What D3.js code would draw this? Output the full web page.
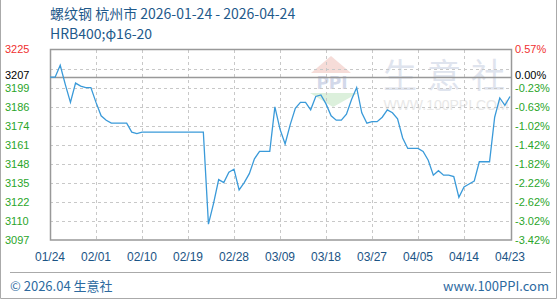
<!DOCTYPE html>
<html>
<head>
<meta charset="utf-8">
<script src="https://cdn.jsdelivr.net/npm/d3@7"></script>
<style>
body { margin: 0; background: #fff; }
</style>
</head>
<body>
<svg id="chart"></svg>
<script>
// 螺纹钢 杭州市 日价格
const title = "螺纹钢 杭州市 2026-01-24 - 2026-04-24";
const subtitle = "HRB400;φ16-20";
const xLabels = ["01/24", "02/01", "02/10", "02/19", "02/28", "03/09", "03/18", "03/27", "04/05", "04/14", "04/23"];
const prices = [
  3207, 3207, 3215, 3202, 3190, 3203, 3201, 3200, 3200, 3190,
  3181, 3178, 3176, 3176, 3176, 3176, 3170, 3169, 3170, 3170,
  3170, 3170, 3170, 3170, 3170, 3170, 3170, 3170, 3170, 3170,
  3170, 3108, 3122, 3138, 3136, 3143, 3145, 3131, 3136, 3142,
  3152, 3157, 3157, 3157, 3187, 3172, 3162, 3175, 3186, 3190,
  3190, 3185, 3194, 3195, 3189, 3181, 3178, 3178, 3182, 3192,
  3200, 3183, 3176, 3177, 3177, 3180, 3185, 3183, 3179, 3166,
  3159, 3159, 3159, 3157, 3151, 3141, 3144, 3141, 3141, 3140,
  3126, 3133, 3135, 3137, 3150, 3150, 3150, 3180, 3193, 3188,
  3194
];
const basePrice = 3207;
const yMin = 3097.3;
const yMax = 3225.3;
const leftLabels = ["3097", "3110", "3122", "3135", "3148", "3161", "3174", "3186", "3199"];
const rightLabels = ["-3.42%", "-3.02%", "-2.62%", "-2.22%", "-1.82%", "-1.42%", "-1.02%", "-0.63%", "-0.23%"];
const baseLabels = ["3207", "0.00%"];
const topLabels = ["3225", "0.57%"];

const width = 560;
const height = 300;
const plot = { left: 50, right: 511, top: 50, bottom: 240 };

const svg = d3.select("#chart")
  .attr("width", width)
  .attr("height", height)
  .style("display", "block");

const x = d3.scaleLinear().domain([0, prices.length - 1]).range([plot.left, 510]);
const y = d3.scaleLinear().domain([yMin, yMax]).range([plot.bottom, plot.top]);
const step = (yMax - yMin) / 10;
const crisp = v => Math.round(v) + 0.5;

// outer frame
svg.append("path")
  .attr("d", `M0.5,0 V298.5 H556.5 V0`)
  .attr("fill", "none")
  .attr("stroke", "#aaa");

// title
const head = svg.append("g").attr("fill", "#1f5a8b").style("font-family", "'Noto Sans CJK SC', sans-serif").style("font-size", "14px");
head.append("text").attr("x", 50).attr("y", 19).text(title);
head.append("text").attr("x", 50).attr("y", 39).text(subtitle);

// watermark
const wm = svg.append("g");
wm.append("path").attr("d", "M331,56 L311,73 L351,73 Z").attr("fill", "#f6dcd8");
wm.append("text").attr("x", 332).attr("y", 89).attr("text-anchor", "middle")
  .style("font-family", "'DejaVu Sans', sans-serif").style("font-size", "17px").style("font-weight", "bold")
  .attr("fill", "#d3d9ea").text("PPI");
wm.append("path").attr("d", "M310,93 L358,93 L333,107 Z").attr("fill", "#dcf0dc");
wm.selectAll(".wmc")
  .data(["生", "意", "社"])
  .enter().append("text")
  .attr("x", (d, i) => 400 + i * 44)
  .attr("y", 88)
  .attr("text-anchor", "middle")
  .style("font-family", "'Noto Sans CJK SC', sans-serif")
  .style("font-size", "34px")
  .attr("fill", "#dfe4ee")
  .text(d => d);
wm.append("text").attr("x", 446).attr("y", 110).attr("text-anchor", "middle")
  .style("font-family", "'Liberation Sans', sans-serif").style("font-size", "14px")
  .attr("fill", "#e8e8e8").text("WWW.100PPI.COM");

// grid
const grid = svg.append("g").attr("stroke", "#c8c8c8").attr("stroke-dasharray", "3,3");
grid.selectAll(".vg")
  .data(d3.range(1, 10))
  .enter().append("line")
  .attr("x1", i => crisp(x(i * 9))).attr("x2", i => crisp(x(i * 9)))
  .attr("y1", plot.top).attr("y2", plot.bottom);
grid.selectAll(".hg")
  .data(d3.range(1, 10))
  .enter().append("line")
  .attr("x1", plot.left).attr("x2", plot.right)
  .attr("y1", k => crisp(y(yMin + k * step))).attr("y2", k => crisp(y(yMin + k * step)));

// base line
svg.append("line")
  .attr("x1", plot.left).attr("x2", plot.right)
  .attr("y1", crisp(y(basePrice))).attr("y2", crisp(y(basePrice)))
  .attr("stroke", "#999").attr("stroke-width", 1.5);

// frame
svg.append("rect")
  .attr("x", plot.left + 0.5).attr("y", plot.top - 0.5)
  .attr("width", plot.right - plot.left).attr("height", plot.bottom - plot.top + 0.5)
  .attr("fill", "none").attr("stroke", "#999").attr("stroke-width", 1.5);

// price line
const line = d3.line().x((d, i) => x(i)).y(d => y(d));
svg.append("path")
  .datum(prices)
  .attr("d", line)
  .attr("fill", "none")
  .attr("stroke", "#3a9ad9")
  .attr("stroke-width", 1.3);

// y labels
const axisFont = g => g.style("font-family", "'Liberation Sans', Arial, sans-serif").style("font-size", "11px");
const left = svg.append("g").call(axisFont);
const right = svg.append("g").call(axisFont);
left.selectAll(".yl")
  .data(leftLabels)
  .enter().append("text")
  .attr("x", 5).attr("y", (d, k) => y(yMin + k * step) + 4)
  .attr("fill", "#2aa52a").text(d => d);
right.selectAll(".yr")
  .data(rightLabels)
  .enter().append("text")
  .attr("x", 515).attr("y", (d, k) => y(yMin + k * step) + 4)
  .attr("fill", "#2aa52a").text(d => d);
left.append("text").attr("x", 5).attr("y", y(basePrice) + 2).attr("fill", "#000").text(baseLabels[0]);
right.append("text").attr("x", 515).attr("y", y(basePrice) + 2).attr("fill", "#000").text(baseLabels[1]);
left.append("text").attr("x", 5).attr("y", y(yMax) + 3).attr("fill", "#f03030").text(topLabels[0]);
right.append("text").attr("x", 515).attr("y", y(yMax) + 3).attr("fill", "#f03030").text(topLabels[1]);

// x labels
svg.append("g").call(axisFont).style("font-size", "12px")
  .selectAll(".xl")
  .data(xLabels)
  .enter().append("text")
  .attr("x", (d, i) => x(i * 9))
  .attr("y", 261)
  .attr("text-anchor", "middle")
  .attr("fill", "#1b5485")
  .text(d => d);

// footer
svg.append("line").attr("x1", 10).attr("x2", 551).attr("y1", 272.5).attr("y2", 272.5).attr("stroke", "#aaa");
const foot = svg.append("g").attr("fill", "#2d6a9f").style("font-family", "'Noto Sans CJK SC', sans-serif").style("font-size", "13px");
foot.append("text").attr("x", 10).attr("y", 291).text("© 2026.04 生意社");
foot.append("text").attr("x", 549).attr("y", 291).attr("text-anchor", "end").text("www.100PPI.com");
</script>
</body>
</html>
